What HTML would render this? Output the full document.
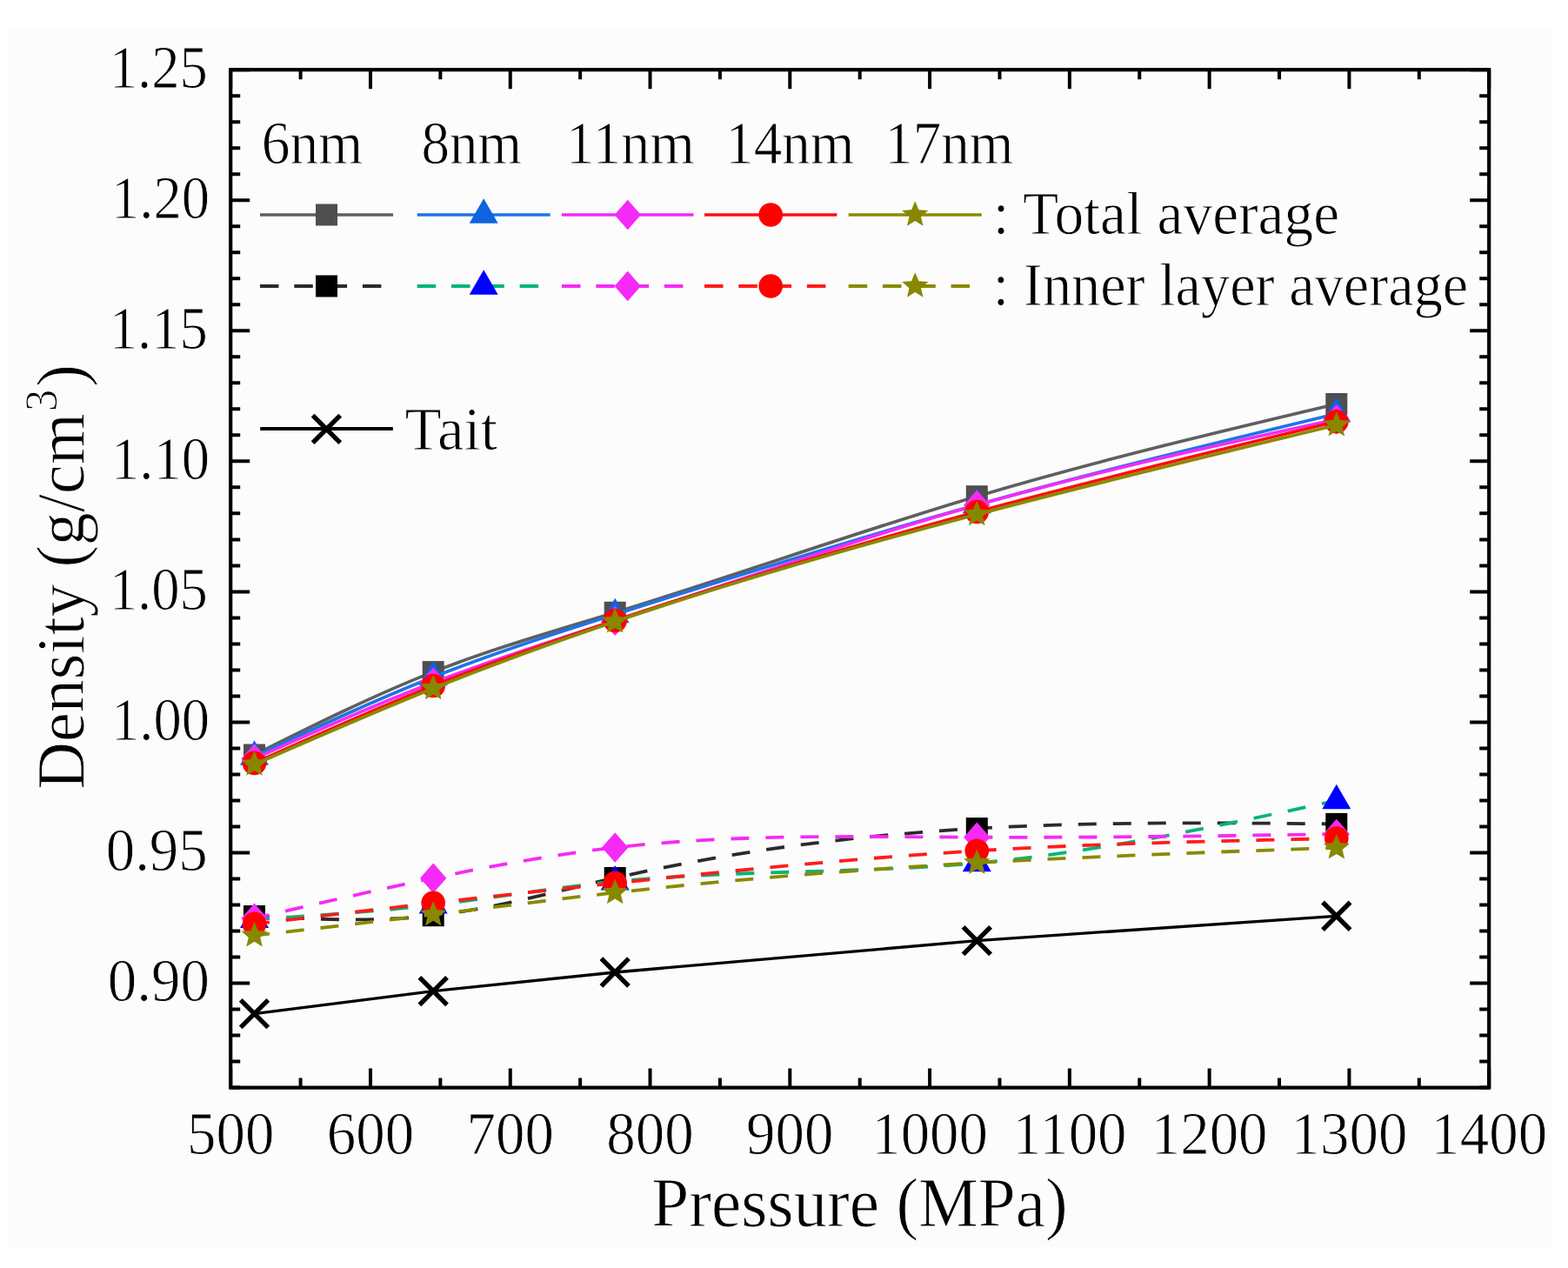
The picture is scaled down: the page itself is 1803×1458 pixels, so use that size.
<!DOCTYPE html><html><head><meta charset="utf-8"><title>Density vs Pressure</title>
<style>html,body{margin:0;padding:0;background:#fff;}svg{display:block;}text{font-family:'Liberation Serif', 'Times New Roman', serif;fill:#000;stroke:#fcfcfc;stroke-width:0.9px;}</style></head><body>
<svg width="1803" height="1458" viewBox="0 0 1803 1458">
<rect x="0" y="0" width="1803" height="1458" fill="#ffffff"/>
<defs><filter id="soft" x="0" y="0" width="1803" height="1458" filterUnits="userSpaceOnUse"><feGaussianBlur stdDeviation="0.7"/></filter></defs><g filter="url(#soft)">
<rect x="10" y="34" width="1774" height="1400" fill="#fcfcfc"/>
<path d="M292.5 868C361.07 833.72 429.63 799.45 498.2 772.6C567.87 745.32 637.53 725.71 707.2 704.3C845.9 661.68 984.6 611.95 1123.3 570.7C1261.13 529.71 1398.97 497.11 1536.8 464.5" fill="none" stroke="#5e5e5e" stroke-width="3.7" stroke-linejoin="round"/>
<rect x="280" y="855.5" width="25" height="25" fill="#505050"/>
<rect x="485.7" y="760.1" width="25" height="25" fill="#505050"/>
<rect x="694.7" y="691.8" width="25" height="25" fill="#505050"/>
<rect x="1110.8" y="558.2" width="25" height="25" fill="#505050"/>
<rect x="1524.3" y="452" width="25" height="25" fill="#505050"/>
<path d="M292.5 870C361.07 837.81 429.63 805.61 498.2 778.5C567.87 750.95 637.53 728.65 707.2 706.5C845.9 662.41 984.6 618.94 1123.3 580.5C1261.13 542.3 1398.97 509.05 1536.8 475.8" fill="none" stroke="#1c74e6" stroke-width="3.7" stroke-linejoin="round"/>
<polygon points="292.5,851.3 309,879.8 276,879.8" fill="#0a64e0"/>
<polygon points="498.2,759.8 514.7,788.3 481.7,788.3" fill="#0a64e0"/>
<polygon points="707.2,687.8 723.7,716.3 690.7,716.3" fill="#0a64e0"/>
<polygon points="1123.3,561.8 1139.8,590.3 1106.8,590.3" fill="#0a64e0"/>
<polygon points="1536.8,457.1 1553.3,485.6 1520.3,485.6" fill="#0a64e0"/>
<path d="M292.5 872.5C361.07 841.73 429.63 810.97 498.2 784.8C567.87 758.22 637.53 736.38 707.2 713.7C845.9 668.54 984.6 620.03 1123.3 580.8C1261.13 541.82 1398.97 512.01 1536.8 482.2" fill="none" stroke="#f52cf7" stroke-width="3.7" stroke-linejoin="round"/>
<polygon points="292.5,855.2 307.7,872.5 292.5,889.8 277.3,872.5" fill="#f52cf7"/>
<polygon points="498.2,767.5 513.4,784.8 498.2,802.1 483,784.8" fill="#f52cf7"/>
<polygon points="707.2,696.4 722.4,713.7 707.2,731 692,713.7" fill="#f52cf7"/>
<polygon points="1123.3,563.5 1138.5,580.8 1123.3,598.1 1108.1,580.8" fill="#f52cf7"/>
<polygon points="1536.8,464.9 1552,482.2 1536.8,499.5 1521.6,482.2" fill="#f52cf7"/>
<path d="M292.5 877.4C361.07 846.61 429.63 815.82 498.2 788.5C567.87 760.74 637.53 736.57 707.2 713.5C845.9 667.57 984.6 626.01 1123.3 588.5C1261.13 551.23 1398.97 517.96 1536.8 484.7" fill="none" stroke="#ff1010" stroke-width="3.7" stroke-linejoin="round"/>
<circle cx="292.5" cy="877.4" r="13.8" fill="#ff0000"/>
<circle cx="498.2" cy="788.5" r="13.8" fill="#ff0000"/>
<circle cx="707.2" cy="713.5" r="13.8" fill="#ff0000"/>
<circle cx="1123.3" cy="588.5" r="13.8" fill="#ff0000"/>
<circle cx="1536.8" cy="484.7" r="13.8" fill="#ff0000"/>
<path d="M292.5 879C361.07 848.98 429.63 818.97 498.2 791.5C567.87 763.59 637.53 738.32 707.2 714.8C845.9 667.98 984.6 628.12 1123.3 591.5C1261.13 555.11 1398.97 521.9 1536.8 488.7" fill="none" stroke="#8a8a00" stroke-width="3.7" stroke-linejoin="round"/>
<polygon points="292.5,863.2 296.68,873.25 307.53,874.12 299.26,881.2 301.79,891.78 292.5,886.11 283.21,891.78 285.74,881.2 277.47,874.12 288.32,873.25" fill="#878700"/>
<polygon points="498.2,775.7 502.38,785.75 513.23,786.62 504.96,793.7 507.49,804.28 498.2,798.61 488.91,804.28 491.44,793.7 483.17,786.62 494.02,785.75" fill="#878700"/>
<polygon points="707.2,699 711.38,709.05 722.23,709.92 713.96,717 716.49,727.58 707.2,721.91 697.91,727.58 700.44,717 692.17,709.92 703.02,709.05" fill="#878700"/>
<polygon points="1123.3,575.7 1127.48,585.75 1138.33,586.62 1130.06,593.7 1132.59,604.28 1123.3,598.61 1114.01,604.28 1116.54,593.7 1108.27,586.62 1119.12,585.75" fill="#878700"/>
<polygon points="1536.8,472.9 1540.98,482.95 1551.83,483.82 1543.56,490.9 1546.09,501.48 1536.8,495.81 1527.51,501.48 1530.04,490.9 1521.77,483.82 1532.62,482.95" fill="#878700"/>
<path d="M292.5 1053.5C361.07 1056.97 429.63 1060.45 498.2 1052.7C567.87 1044.83 637.53 1025.37 707.2 1009.5C845.9 977.91 984.6 960.56 1123.3 952.6C1261.13 944.69 1398.97 946.04 1536.8 947.4" fill="none" stroke="#2a2a2a" stroke-width="3.8" stroke-dasharray="21 19" stroke-dashoffset="3.5"/>
<rect x="280" y="1041" width="25" height="25" fill="#000000"/>
<rect x="485.7" y="1040.2" width="25" height="25" fill="#000000"/>
<rect x="694.7" y="997" width="25" height="25" fill="#000000"/>
<rect x="1110.8" y="940.1" width="25" height="25" fill="#000000"/>
<rect x="1524.3" y="934.9" width="25" height="25" fill="#000000"/>
<path d="M292.5 1057.2C361.07 1052.87 429.63 1048.55 498.2 1040.6C567.87 1032.52 637.53 1020.71 707.2 1013.7C845.9 999.75 984.6 1004.87 1123.3 992.4C1261.13 980.01 1398.97 950.26 1536.8 920.5" fill="none" stroke="#00b47a" stroke-width="3.8" stroke-dasharray="21 19" stroke-dashoffset="3.5"/>
<polygon points="292.5,1038.5 309,1067 276,1067" fill="#0000ff"/>
<polygon points="498.2,1021.9 514.7,1050.4 481.7,1050.4" fill="#0000ff"/>
<polygon points="707.2,995 723.7,1023.5 690.7,1023.5" fill="#0000ff"/>
<polygon points="1123.3,973.7 1139.8,1002.2 1106.8,1002.2" fill="#0000ff"/>
<polygon points="1536.8,901.8 1553.3,930.3 1520.3,930.3" fill="#0000ff"/>
<path d="M292.5 1056C361.07 1040 429.63 1023.99 498.2 1009.7C567.87 995.18 637.53 982.42 707.2 974.5C845.9 958.73 984.6 962.1 1123.3 962.7C1261.13 963.3 1398.97 961.15 1536.8 959" fill="none" stroke="#f52cf7" stroke-width="3.8" stroke-dasharray="21 19" stroke-dashoffset="3.5"/>
<polygon points="292.5,1038.7 307.7,1056 292.5,1073.3 277.3,1056" fill="#f52cf7"/>
<polygon points="498.2,992.4 513.4,1009.7 498.2,1027 483,1009.7" fill="#f52cf7"/>
<polygon points="707.2,957.2 722.4,974.5 707.2,991.8 692,974.5" fill="#f52cf7"/>
<polygon points="1123.3,945.4 1138.5,962.7 1123.3,980 1108.1,962.7" fill="#f52cf7"/>
<polygon points="1536.8,941.7 1552,959 1536.8,976.3 1521.6,959" fill="#f52cf7"/>
<path d="M292.5 1062.4C361.07 1054.24 429.63 1046.08 498.2 1038.3C567.87 1030.39 637.53 1022.87 707.2 1015.5C845.9 1000.83 984.6 986.77 1123.3 978.3C1261.13 969.88 1398.97 966.99 1536.8 964.1" fill="none" stroke="#ff1a1a" stroke-width="3.8" stroke-dasharray="21 19" stroke-dashoffset="3.5"/>
<circle cx="292.5" cy="1062.4" r="13.8" fill="#ff0000"/>
<circle cx="498.2" cy="1038.3" r="13.8" fill="#ff0000"/>
<circle cx="707.2" cy="1015.5" r="13.8" fill="#ff0000"/>
<circle cx="1123.3" cy="978.3" r="13.8" fill="#ff0000"/>
<circle cx="1536.8" cy="964.1" r="13.8" fill="#ff0000"/>
<path d="M292.5 1075.7C361.07 1067.87 429.63 1060.04 498.2 1051.7C567.87 1043.22 637.53 1034.21 707.2 1026.4C845.9 1010.84 984.6 1000.02 1123.3 992.2C1261.13 984.43 1398.97 979.61 1536.8 974.8" fill="none" stroke="#8a8a00" stroke-width="3.8" stroke-dasharray="21 19" stroke-dashoffset="3.5"/>
<polygon points="292.5,1059.9 296.68,1069.95 307.53,1070.82 299.26,1077.9 301.79,1088.48 292.5,1082.81 283.21,1088.48 285.74,1077.9 277.47,1070.82 288.32,1069.95" fill="#878700"/>
<polygon points="498.2,1035.9 502.38,1045.95 513.23,1046.82 504.96,1053.9 507.49,1064.48 498.2,1058.81 488.91,1064.48 491.44,1053.9 483.17,1046.82 494.02,1045.95" fill="#878700"/>
<polygon points="707.2,1010.6 711.38,1020.65 722.23,1021.52 713.96,1028.6 716.49,1039.18 707.2,1033.51 697.91,1039.18 700.44,1028.6 692.17,1021.52 703.02,1020.65" fill="#878700"/>
<polygon points="1123.3,976.4 1127.48,986.45 1138.33,987.32 1130.06,994.4 1132.59,1004.98 1123.3,999.31 1114.01,1004.98 1116.54,994.4 1108.27,987.32 1119.12,986.45" fill="#878700"/>
<polygon points="1536.8,959 1540.98,969.05 1551.83,969.92 1543.56,977 1546.09,987.58 1536.8,981.91 1527.51,987.58 1530.04,977 1521.77,969.92 1532.62,969.05" fill="#878700"/>
<path d="M292.5 1165.6 L498.2 1139.6 L707.2 1118 L1123.3 1081.6 L1536.8 1053.3" fill="none" stroke="#000" stroke-width="3.3"/>
<path d="M276.7 1149.8L308.3 1181.4M276.7 1181.4L308.3 1149.8" stroke="#000" stroke-width="5.4" fill="none"/>
<path d="M482.4 1123.8L514 1155.4M482.4 1155.4L514 1123.8" stroke="#000" stroke-width="5.4" fill="none"/>
<path d="M691.4 1102.2L723 1133.8M691.4 1133.8L723 1102.2" stroke="#000" stroke-width="5.4" fill="none"/>
<path d="M1107.5 1065.8L1139.1 1097.4M1107.5 1097.4L1139.1 1065.8" stroke="#000" stroke-width="5.4" fill="none"/>
<path d="M1521 1037.5L1552.6 1069.1M1521 1069.1L1552.6 1037.5" stroke="#000" stroke-width="5.4" fill="none"/>
<path d="M265.2 1250.6h11M1712.2 1250.6h-11M265.2 1220.59h11M1712.2 1220.59h-11M265.2 1190.58h11M1712.2 1190.58h-11M265.2 1160.57h11M1712.2 1160.57h-11M265.2 1130.56h22M1712.2 1130.56h-22M265.2 1100.55h11M1712.2 1100.55h-11M265.2 1070.54h11M1712.2 1070.54h-11M265.2 1040.53h11M1712.2 1040.53h-11M265.2 1010.52h11M1712.2 1010.52h-11M265.2 980.51h22M1712.2 980.51h-22M265.2 950.5h11M1712.2 950.5h-11M265.2 920.49h11M1712.2 920.49h-11M265.2 890.48h11M1712.2 890.48h-11M265.2 860.47h11M1712.2 860.47h-11M265.2 830.46h22M1712.2 830.46h-22M265.2 800.45h11M1712.2 800.45h-11M265.2 770.44h11M1712.2 770.44h-11M265.2 740.43h11M1712.2 740.43h-11M265.2 710.42h11M1712.2 710.42h-11M265.2 680.41h22M1712.2 680.41h-22M265.2 650.39h11M1712.2 650.39h-11M265.2 620.38h11M1712.2 620.38h-11M265.2 590.37h11M1712.2 590.37h-11M265.2 560.36h11M1712.2 560.36h-11M265.2 530.35h22M1712.2 530.35h-22M265.2 500.34h11M1712.2 500.34h-11M265.2 470.33h11M1712.2 470.33h-11M265.2 440.32h11M1712.2 440.32h-11M265.2 410.31h11M1712.2 410.31h-11M265.2 380.3h22M1712.2 380.3h-22M265.2 350.29h11M1712.2 350.29h-11M265.2 320.28h11M1712.2 320.28h-11M265.2 290.27h11M1712.2 290.27h-11M265.2 260.26h11M1712.2 260.26h-11M265.2 230.25h22M1712.2 230.25h-22M265.2 200.24h11M1712.2 200.24h-11M265.2 170.23h11M1712.2 170.23h-11M265.2 140.22h11M1712.2 140.22h-11M265.2 110.21h11M1712.2 110.21h-11M265.2 80.2h22M1712.2 80.2h-22M265.2 1250.6v-22M265.2 80.2v22M345.59 1250.6v-11M345.59 80.2v11M425.98 1250.6v-22M425.98 80.2v22M506.37 1250.6v-11M506.37 80.2v11M586.76 1250.6v-22M586.76 80.2v22M667.14 1250.6v-11M667.14 80.2v11M747.53 1250.6v-22M747.53 80.2v22M827.92 1250.6v-11M827.92 80.2v11M908.31 1250.6v-22M908.31 80.2v22M988.7 1250.6v-11M988.7 80.2v11M1069.09 1250.6v-22M1069.09 80.2v22M1149.48 1250.6v-11M1149.48 80.2v11M1229.87 1250.6v-22M1229.87 80.2v22M1310.26 1250.6v-11M1310.26 80.2v11M1390.64 1250.6v-22M1390.64 80.2v22M1471.03 1250.6v-11M1471.03 80.2v11M1551.42 1250.6v-22M1551.42 80.2v22M1631.81 1250.6v-11M1631.81 80.2v11M1712.2 1250.6v-22M1712.2 80.2v22" stroke="#000" stroke-width="4" fill="none"/>
<rect x="265.2" y="80.2" width="1447" height="1170.4" fill="none" stroke="#000" stroke-width="4.2"/>
<text transform="translate(241 1150.96) scale(0.9700 1)" font-size="69" text-anchor="end">0.90</text>
<text transform="translate(238.8 1000.91) scale(0.9700 1)" font-size="69" text-anchor="end">0.95</text>
<text transform="translate(241 850.86) scale(0.9360 1)" font-size="69" text-anchor="end">1.00</text>
<text transform="translate(238.8 700.81) scale(0.9360 1)" font-size="69" text-anchor="end">1.05</text>
<text transform="translate(241 550.75) scale(0.9360 1)" font-size="69" text-anchor="end">1.10</text>
<text transform="translate(238.8 400.7) scale(0.9360 1)" font-size="69" text-anchor="end">1.15</text>
<text transform="translate(241 250.65) scale(0.9360 1)" font-size="69" text-anchor="end">1.20</text>
<text transform="translate(238.8 100.6) scale(0.9360 1)" font-size="69" text-anchor="end">1.25</text>
<text transform="translate(265.2 1326.8) scale(0.97 1)" font-size="69" text-anchor="middle">500</text>
<text transform="translate(425.98 1326.8) scale(0.97 1)" font-size="69" text-anchor="middle">600</text>
<text transform="translate(586.76 1326.8) scale(0.97 1)" font-size="69" text-anchor="middle">700</text>
<text transform="translate(747.53 1326.8) scale(0.97 1)" font-size="69" text-anchor="middle">800</text>
<text transform="translate(908.31 1326.8) scale(0.97 1)" font-size="69" text-anchor="middle">900</text>
<text transform="translate(1069.09 1326.8) scale(0.97 1)" font-size="69" text-anchor="middle">1000</text>
<text transform="translate(1229.87 1326.8) scale(0.97 1)" font-size="69" text-anchor="middle">1100</text>
<text transform="translate(1390.64 1326.8) scale(0.97 1)" font-size="69" text-anchor="middle">1200</text>
<text transform="translate(1551.42 1326.8) scale(0.97 1)" font-size="69" text-anchor="middle">1300</text>
<text transform="translate(1712.2 1326.8) scale(0.97 1)" font-size="69" text-anchor="middle">1400</text>
<text transform="translate(749.37 1410.4) scale(0.9657 1)" font-size="80">Pressure (MPa)</text>
<text transform="translate(95.6 907.92) rotate(-90) scale(0.9623 1)" font-size="79">Density (g/cm</text>
<text transform="translate(64.5 472.91) rotate(-90) scale(0.9714 1)" font-size="52">3</text>
<text transform="translate(95.6 444.97) rotate(-90) scale(0.9900 1)" font-size="79">)</text>
<path d="M299 247H452" stroke="#5e5e5e" stroke-width="3.7"/>
<rect x="363" y="234.5" width="25" height="25" fill="#505050"/>
<path d="M299 329H452" stroke="#2a2a2a" stroke-width="3.8" stroke-dasharray="21.5 17.8"/>
<rect x="363" y="316.5" width="25" height="25" fill="#000000"/>
<path d="M479.7 247H632.7" stroke="#1c74e6" stroke-width="3.7"/>
<polygon points="556.2,228.3 572.7,256.8 539.7,256.8" fill="#0a64e0"/>
<path d="M479.7 329H632.7" stroke="#00b47a" stroke-width="3.8" stroke-dasharray="21.5 17.8"/>
<polygon points="556.2,310.3 572.7,338.8 539.7,338.8" fill="#0000ff"/>
<path d="M646 247H797.5" stroke="#f52cf7" stroke-width="3.7"/>
<polygon points="721.75,229.7 736.95,247 721.75,264.3 706.55,247" fill="#f52cf7"/>
<path d="M646 329H797.5" stroke="#f52cf7" stroke-width="3.8" stroke-dasharray="21.5 17.8"/>
<polygon points="721.75,311.7 736.95,329 721.75,346.3 706.55,329" fill="#f52cf7"/>
<path d="M810 247H962.4" stroke="#ff1010" stroke-width="3.7"/>
<circle cx="886.2" cy="247" r="13.8" fill="#ff0000"/>
<path d="M810 329H962.4" stroke="#ff1a1a" stroke-width="3.8" stroke-dasharray="21.5 17.8"/>
<circle cx="886.2" cy="329" r="13.8" fill="#ff0000"/>
<path d="M975.7 247H1128.8" stroke="#8a8a00" stroke-width="3.7"/>
<polygon points="1052.25,231.2 1056.43,241.25 1067.28,242.12 1059.01,249.2 1061.54,259.78 1052.25,254.11 1042.96,259.78 1045.49,249.2 1037.22,242.12 1048.07,241.25" fill="#878700"/>
<path d="M975.7 329H1128.8" stroke="#8a8a00" stroke-width="3.8" stroke-dasharray="21.5 17.8"/>
<polygon points="1052.25,313.2 1056.43,323.25 1067.28,324.12 1059.01,331.2 1061.54,341.78 1052.25,336.11 1042.96,341.78 1045.49,331.2 1037.22,324.12 1048.07,323.25" fill="#878700"/>
<text transform="translate(300.8 187.5) scale(0.9350 1)" font-size="70">6nm</text>
<text transform="translate(484.61 187.5) scale(0.9283 1)" font-size="70">8nm</text>
<text transform="translate(650.74 187.5) scale(0.9440 1)" font-size="70">11nm</text>
<text transform="translate(834.13 187.5) scale(0.9289 1)" font-size="70">14nm</text>
<text transform="translate(1017.13 187.5) scale(0.9289 1)" font-size="70">17nm</text>
<text transform="translate(1141.74 269.4) scale(0.9774 1)" font-size="69">: Total average</text>
<text transform="translate(1141.84 351.4) scale(0.9607 1)" font-size="69">: Inner layer average</text>
<path d="M299.2 493H451.8" stroke="#000" stroke-width="4"/>
<path d="M359.6 477.6L391.2 509.2M359.6 509.2L391.2 477.6" stroke="#000" stroke-width="5.4" fill="none"/>
<text transform="translate(465.6 516.6) scale(1.0000 1)" font-size="69">Tait</text>
</g></svg></body></html>
